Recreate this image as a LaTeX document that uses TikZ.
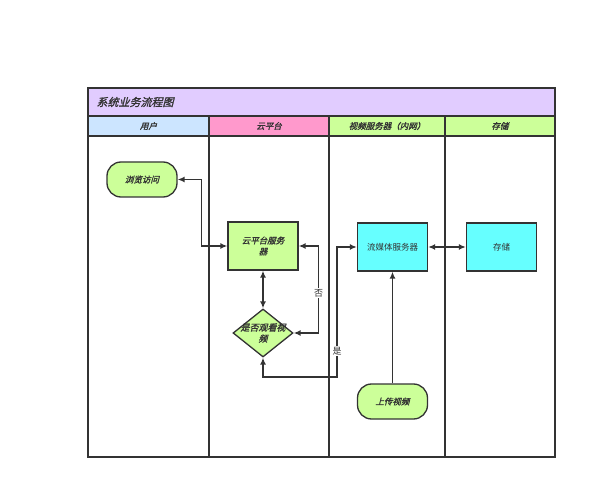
\documentclass[tikz,border=0pt]{standalone}
\usepackage{fontspec}
\newfontfamily\cjk{Noto Sans CJK SC}
\newfontfamily\cjkit[FakeSlant=0.25,FakeBold=1.5]{Noto Sans CJK SC}
\usetikzlibrary{calc,shapes.geometric,arrows.meta}
\definecolor{frame}{HTML}{333333}
\definecolor{titlebg}{HTML}{E1CCFF}
\definecolor{userbg}{HTML}{CCE5FF}
\definecolor{cloudbg}{HTML}{FF99CC}
\definecolor{leaf}{HTML}{CCFF99}
\definecolor{aqua}{HTML}{66FFFF}
\tikzset{
	lane/.style={draw=frame,line width=1.3pt},
	head/.style={font=\cjkit\fontsize{8.5}{10}\selectfont,text=frame},
	task/.style={draw=frame,line width=1.3pt,fill=leaf,minimum width=70pt,minimum height=48pt,
		text width=56pt,align=center,inner sep=0pt,font=\cjkit\fontsize{8.5}{11}\selectfont,text=frame},
	media/.style={task,fill=aqua,font=\cjk\fontsize{8.5}{11}\selectfont},
	term/.style={task,minimum height=35pt,rounded corners=14pt},
	ask/.style={diamond,draw=frame,line width=1.3pt,fill=leaf,minimum width=60pt,minimum height=48pt,inner sep=0pt},
	asktext/.style={text width=60pt,align=center,inner sep=0pt,font=\cjkit\fontsize{9}{11}\selectfont,text=frame},
	link/.style={draw=frame,line width=1.5pt},
	tag/.style={fill=white,inner sep=1pt,text=frame,font=\cjk\fontsize{9}{10}\selectfont}
}
\begin{document}
\begin{tikzpicture}[x=1pt,y=-1pt,>={Latex[length=7pt,width=6pt]}]
\useasboundingbox (0,0) rectangle (598,500);
\fill[white] (0,0) rectangle (598,500);
\draw[lane,fill=titlebg] (88,88) rectangle (555,116);
\node[anchor=west,font=\cjkit\fontsize{11}{12}\selectfont,text=frame] (title) at (93,102) {系统业务流程图};
\foreach \l/\r/\c/\t in {88/209/userbg/用户,209/329/cloudbg/云平台,329/445/leaf/视频服务器（内网）,445/555/leaf/存储} {
	\draw[lane,fill=\c] (\l,116) rectangle (\r,136);
	\node[head] (hd\l) at ({(\l+\r)/2},126) {\t};
	\draw[lane] (\l,136) rectangle (\r,457);
}
\node[term] (browse) at (142,179.5) {浏览访问};
\node[task] (cloudsrv) at (263,246) {云平台服务\\器};
\node[ask] (decide) at (263,333) {};
\node[asktext] (decidetxt) at (decide) {是否观看视\\频};
\node[media] (stream) at (392.5,247) {流媒体服务器};
\node[media] (store) at (501.5,247) {存储};
\node[term] (upload) at (392.5,401.5) {上传视频};
\coordinate (yesbend) at (337,377);
\draw[link,<->] (browse.east) -- ++(24,0) |- (cloudsrv.west);
\draw[link,<->] (cloudsrv.south) -- (decide.north);
\draw[link,<->] (decide.east) -- ++(25,0) |- node[tag,pos=0.23] (no) {否} (cloudsrv.east);
\draw[link,<->] (decide.south) |- (yesbend) |- node[tag,pos=0.1] (yes) {是} (stream.west);
\draw[link,<->] (stream.east) -- (store.west);
\draw[link,->] (upload.north) -- (stream.south);
\end{tikzpicture}
\end{document}
